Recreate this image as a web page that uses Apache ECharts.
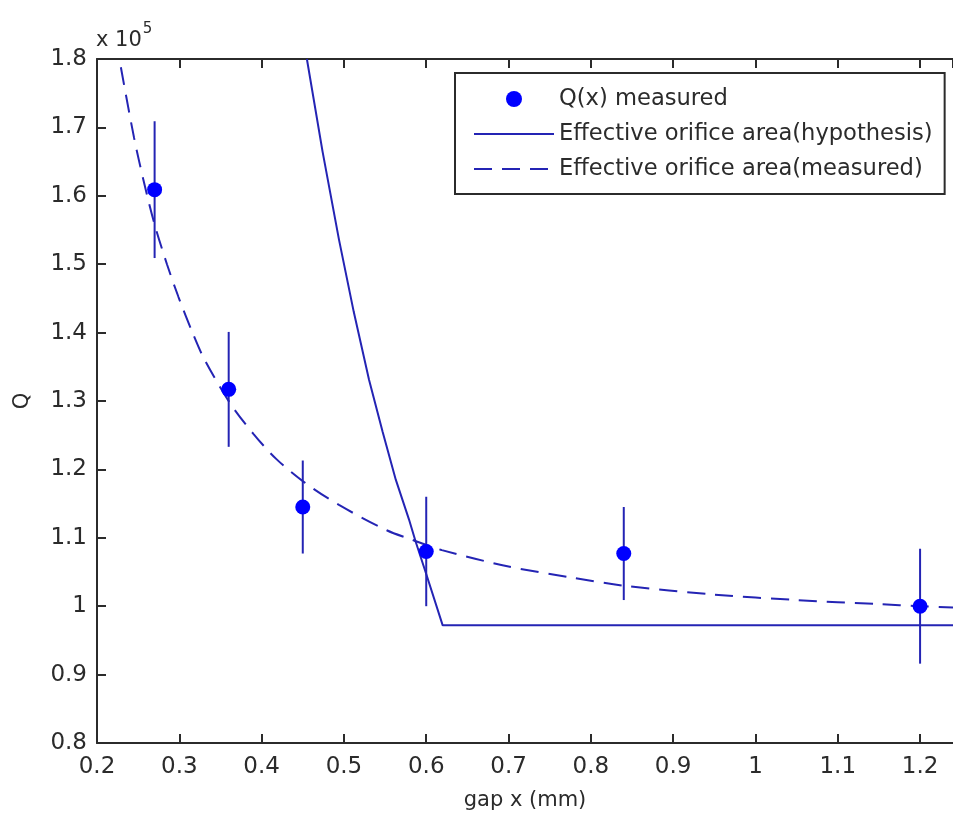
<!DOCTYPE html>
<html>
<head>
<meta charset="utf-8">
<script src="https://cdn.jsdelivr.net/npm/echarts@6/dist/echarts.min.js"></script>
<style>
  html, body { margin: 0; padding: 0; background: #ffffff; }
  #chart { width: 953px; height: 816px; }
</style>
</head>
<body>
<div id="chart"></div>
<script>
// Measured flow coefficient Q at each gap, with error half-widths
const measuredGap = [0.27, 0.36, 0.45, 0.60, 0.84, 1.20];
const measuredQ   = [160900, 131700, 114500, 108000, 107700, 100000];
const measuredErr = [10000, 8400, 6800, 8000, 6800, 8400];

// Effective orifice area model (hypothesis)
const hypothesisGap = [0.455, 0.474, 0.494, 0.512, 0.5305, 0.547, 0.563, 0.579, 0.587, 0.60, 0.62, 1.24];
const hypothesisQ   = [180000, 166500, 153600, 143000, 133100, 125500, 118500, 112700, 109500, 104700, 97200, 97200];

// Effective orifice area fitted to the measurements
const fittedGap = [0.229, 0.245, 0.258, 0.27, 0.285, 0.299, 0.316, 0.33, 0.361, 0.39, 0.418,
                   0.452, 0.494, 0.552, 0.583, 0.619, 0.70, 0.776, 0.84, 0.95, 1.05, 1.15, 1.20, 1.24];
const fittedQ   = [178800, 168500, 161500, 155800, 150000, 145200, 140000, 136200, 129800, 125200, 121500,
                   118100, 114800, 111100, 109700, 108200, 105800, 104200, 103000, 101700, 100900, 100300, 100000, 99800];

// Axis ranges and tick labels
const xRange = [0.2, 1.24];
const yRange = [80000, 180000];
const xTickLabels = ['0.2', '0.3', '0.4', '0.5', '0.6', '0.7', '0.8', '0.9', '1', '1.1', '1.2'];
const yTickLabels = ['0.8', '0.9', '1', '1.1', '1.2', '1.3', '1.4', '1.5', '1.6', '1.7', '1.8'];

const seriesNames = ['Q(x) measured', 'Effective orifice area(hypothesis)', 'Effective orifice area(measured)'];

const FONT = 'DejaVu Sans';
const TEXT = '#2b2b2b';
const AXIS = '#2b2b2b';
const LINE_BLUE = '#2424b4';
const DOT_BLUE = '#0000ff';
const HIDDEN_SYMBOL = { color: 'rgba(0,0,0,0)', opacity: 0, borderWidth: 0 };

const chart = echarts.init(document.getElementById('chart'), null, { renderer: 'canvas' });

const xTickIndex = v => Math.round((v - xRange[0]) / 0.1);
const yTickIndex = v => Math.round((v - yRange[0]) / 10000);

const baseX = {
  type: 'value', min: xRange[0], max: xRange[1], interval: 0.1,
  splitLine: { show: false },
  axisLine: { show: true, onZero: false, lineStyle: { color: AXIS, width: 2 } },
  axisTick: { show: true, inside: true, length: 9, lineStyle: { color: AXIS, width: 2 } }
};

const option = {
  backgroundColor: '#ffffff',
  animation: false,
  grid: { left: 97, top: 59, right: -3, bottom: 72, containLabel: false },
  xAxis: [
    Object.assign({}, baseX, {
      position: 'bottom',
      name: 'gap x (mm)', nameLocation: 'middle', nameGap: 47,
      nameTextStyle: { fontFamily: FONT, fontSize: 21, color: TEXT },
      axisLabel: {
        show: true, margin: 13, showMaxLabel: false,
        fontFamily: FONT, fontSize: 23, color: TEXT,
        formatter: v => xTickLabels[xTickIndex(v)] || ''
      }
    }),
    Object.assign({}, baseX, {
      position: 'top',
      axisLabel: { show: false }
    })
  ],
  yAxis: [{
    type: 'value', min: yRange[0], max: yRange[1], interval: 10000,
    name: 'Q', nameLocation: 'middle', nameGap: 64, nameRotate: 90,
    nameTextStyle: { fontFamily: FONT, fontSize: 21, color: TEXT },
    splitLine: { show: false },
    axisLine: { show: true, onZero: false, lineStyle: { color: AXIS, width: 2 } },
    axisTick: { show: true, inside: true, length: 9, lineStyle: { color: AXIS, width: 2 } },
    axisLabel: {
      margin: 10, fontFamily: FONT, fontSize: 23, color: TEXT,
      formatter: v => yTickLabels[yTickIndex(v)] || ''
    }
  }],
  legend: {
    orient: 'vertical', left: 455, top: 73,
    padding: [14, 12, 13, 18],
    backgroundColor: '#ffffff',
    borderColor: AXIS, borderWidth: 2, borderRadius: 0,
    itemWidth: 80, itemHeight: 16, itemGap: 11,
    textStyle: { fontFamily: FONT, fontSize: 22.6, color: TEXT, lineHeight: 24 },
    data: [
      { name: seriesNames[0], icon: 'circle', itemStyle: { color: DOT_BLUE, opacity: 1 } },
      { name: seriesNames[1], itemStyle: HIDDEN_SYMBOL },
      { name: seriesNames[2], itemStyle: HIDDEN_SYMBOL }
    ]
  },
  graphic: [{
    type: 'text', left: 96, top: 22, z: 10,
    style: {
      text: '{b|x 10}{s|5}',
      rich: {
        b: { fontFamily: FONT, fontSize: 21, fill: TEXT, verticalAlign: 'bottom' },
        s: { fontFamily: FONT, fontSize: 15, fill: TEXT, verticalAlign: 'top', padding: [0, 0, 14, 1] }
      }
    }
  }],
  series: [
    {
      name: 'error bars', type: 'custom', xAxisIndex: 0, yAxisIndex: 0, silent: true, z: 3,
      data: measuredGap.map((g, i) => [g, measuredQ[i] - measuredErr[i], measuredQ[i] + measuredErr[i]]),
      encode: { x: 0, y: [1, 2] },
      renderItem: (params, api) => {
        const lo = api.coord([api.value(0), api.value(1)]);
        const hi = api.coord([api.value(0), api.value(2)]);
        return {
          type: 'line',
          shape: { x1: lo[0], y1: lo[1], x2: hi[0], y2: hi[1] },
          style: { stroke: LINE_BLUE, lineWidth: 2 }
        };
      }
    },
    {
      name: seriesNames[1], type: 'line', z: 2,
      data: hypothesisGap.map((g, i) => [g, hypothesisQ[i]]),
      showSymbol: false, symbol: 'none', smooth: false,
      lineStyle: { color: LINE_BLUE, width: 2 },
      itemStyle: { color: LINE_BLUE }
    },
    {
      name: seriesNames[2], type: 'line', z: 2,
      data: fittedGap.map((g, i) => [g, fittedQ[i]]),
      showSymbol: false, symbol: 'none', smooth: 0.3,
      lineStyle: { color: LINE_BLUE, width: 2, type: [18, 10] },
      itemStyle: { color: LINE_BLUE }
    },
    {
      name: seriesNames[0], type: 'scatter', z: 5,
      data: measuredGap.map((g, i) => [g, measuredQ[i]]),
      symbol: 'circle', symbolSize: 15,
      itemStyle: { color: DOT_BLUE, opacity: 1 }
    }
  ]
};

chart.setOption(option);
</script>
</body>
</html>
